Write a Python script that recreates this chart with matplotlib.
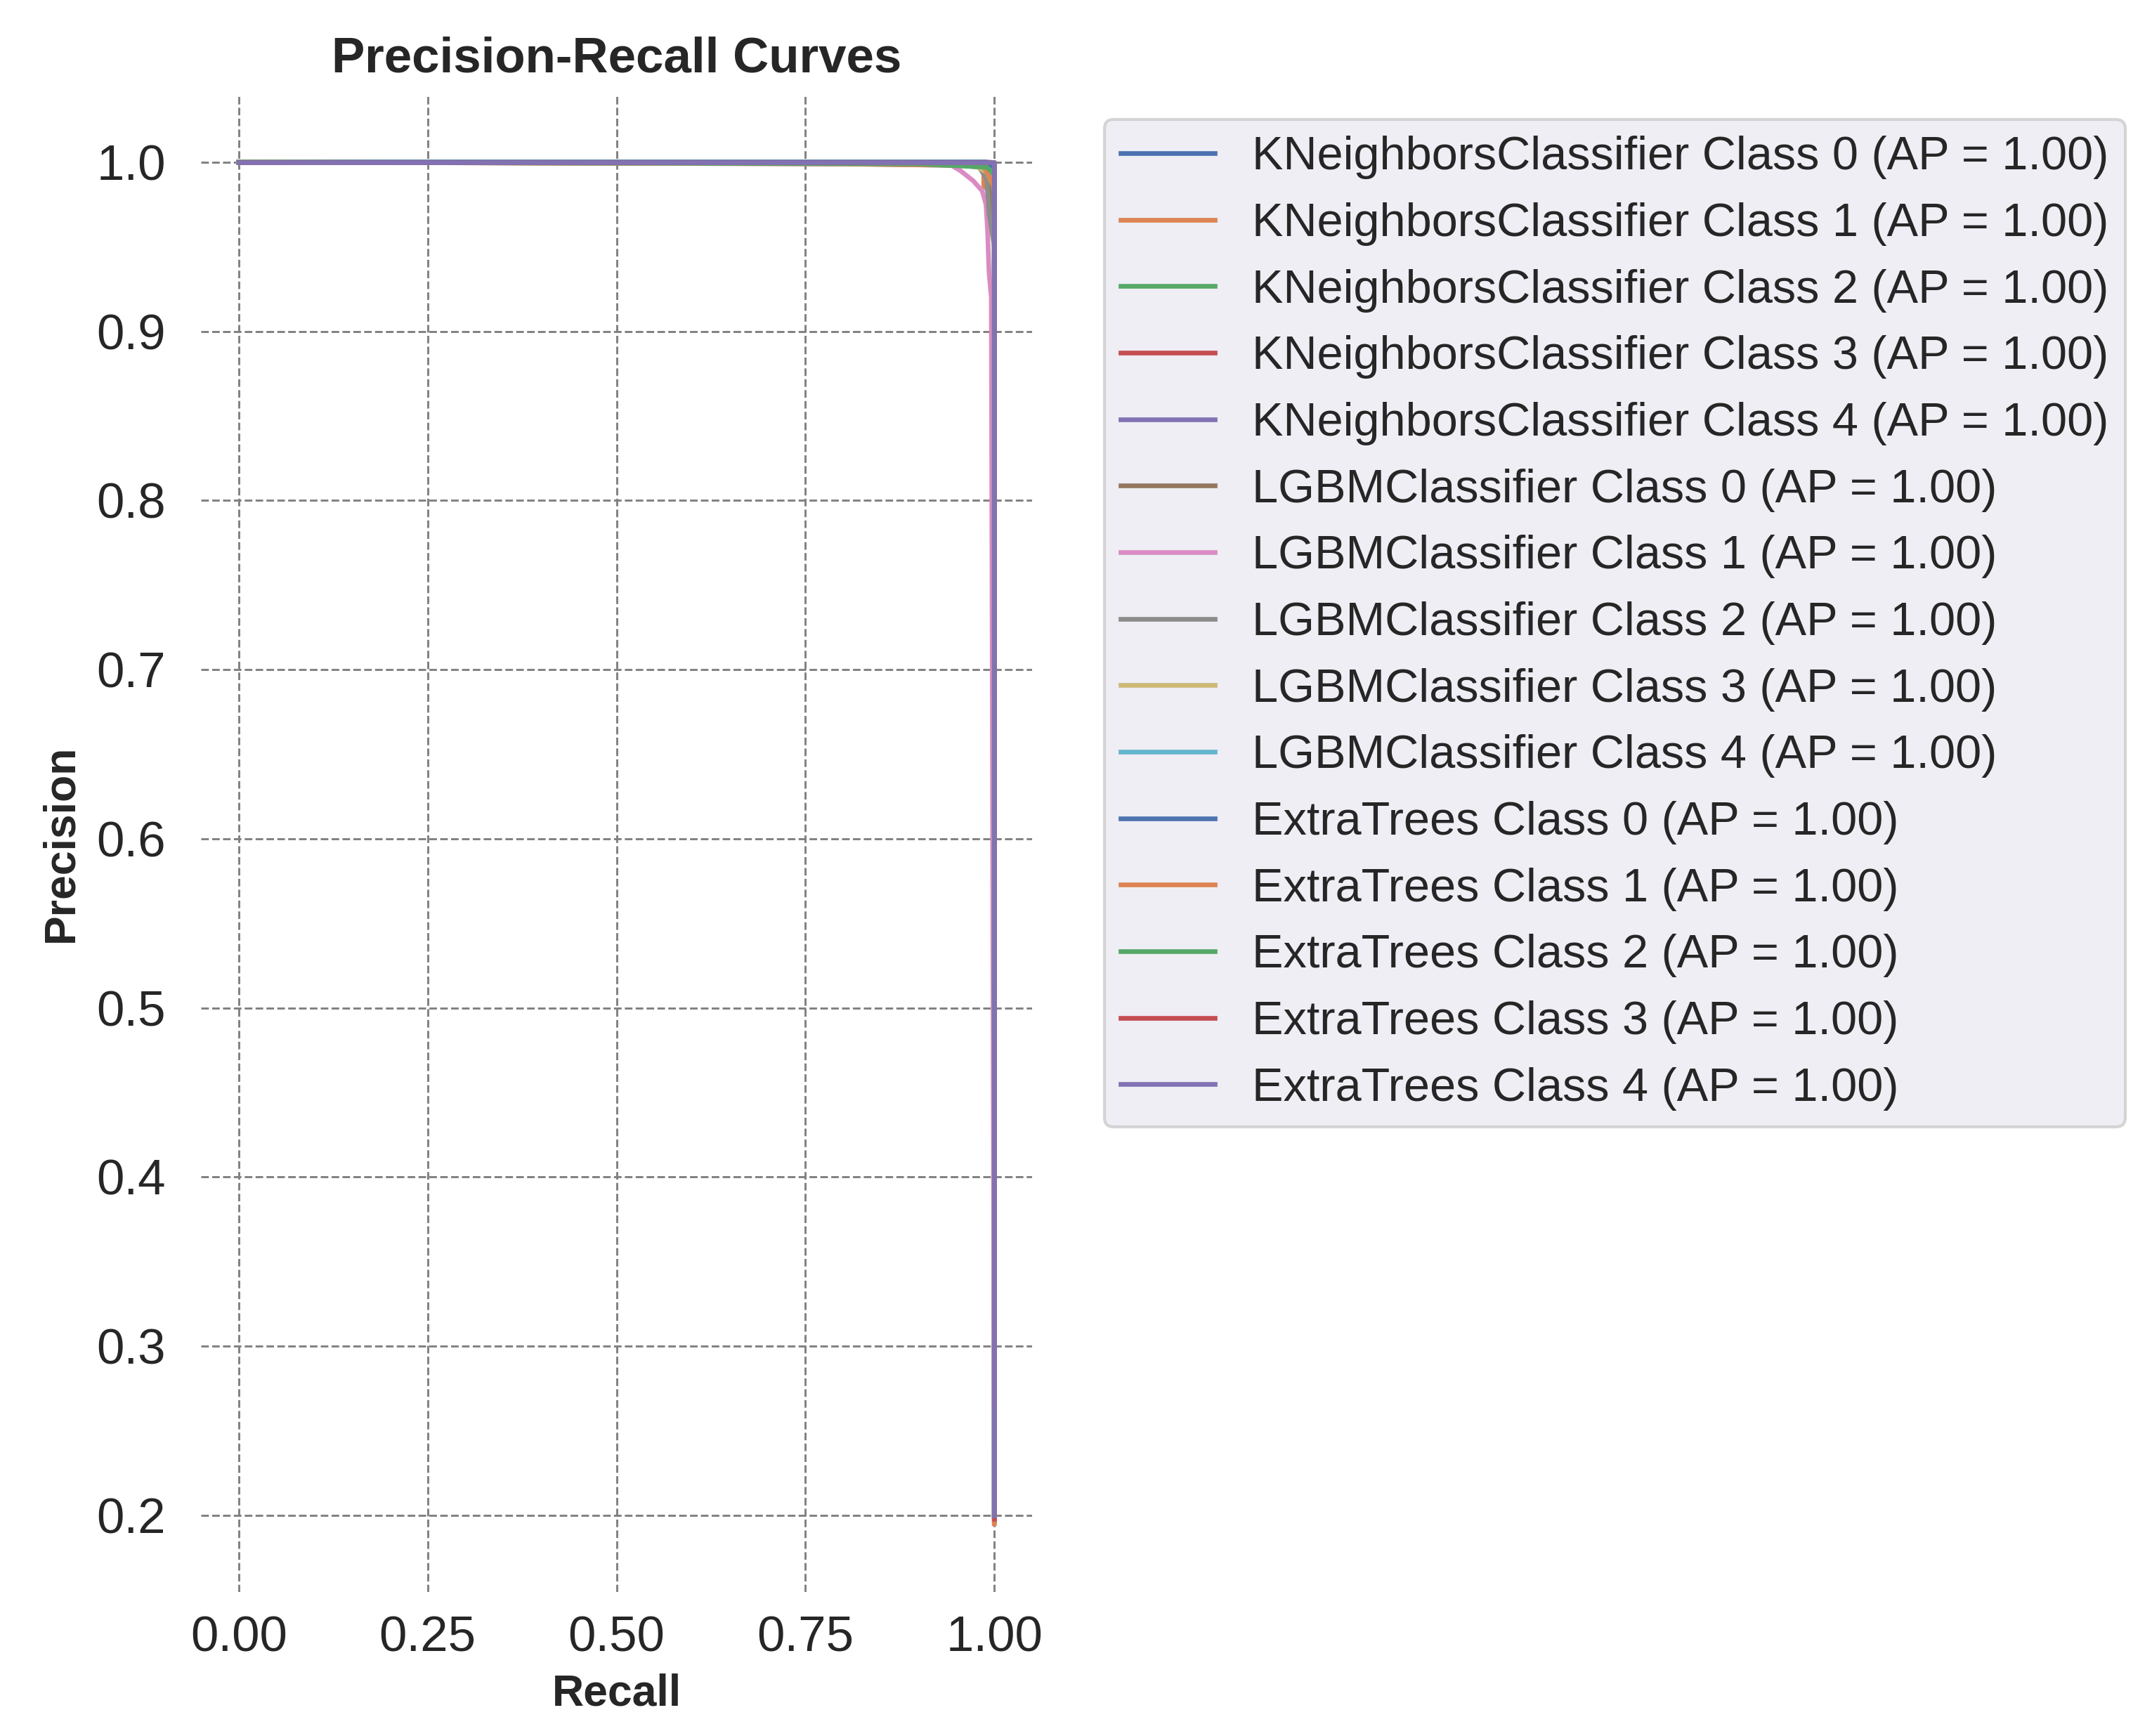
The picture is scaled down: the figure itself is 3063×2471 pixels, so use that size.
import matplotlib
matplotlib.use("Agg")
import matplotlib.pyplot as plt

# ---------------- data ----------------
models = ["KNeighborsClassifier", "LGBMClassifier", "ExtraTrees"]
classes = [0, 1, 2, 3, 4]
ap_knn = [1.00, 1.00, 1.00, 1.00, 1.00]
ap_lgbm = [1.00, 1.00, 1.00, 1.00, 1.00]
ap_et = [1.00, 1.00, 1.00, 1.00, 1.00]

knn_recall = [
    [0.0, 0.985, 0.993, 1.0, 1.0],
    [0.0, 0.980, 0.986, 0.986, 1.0, 1.0],
    [0.0, 0.990, 1.0, 1.0],
    [0.0, 1.0, 1.0],
    [0.0, 0.995, 1.0, 1.0],
]
knn_precision = [
    [1.0, 1.0, 0.996, 0.990, 0.199],
    [1.0, 1.0, 0.996, 0.986, 0.980, 0.196],
    [1.0, 1.0, 0.995, 0.200],
    [1.0, 1.0, 0.198],
    [1.0, 1.0, 0.997, 0.200],
]

lgbm_recall = [
    [0.0, 0.95, 0.985, 0.993, 0.995, 1.0, 1.0],
    [0.0, 0.94, 0.955, 0.972, 0.984, 0.989, 0.991, 0.993, 0.996, 1.0],
    [0.0, 0.80, 0.96, 0.98, 0.99, 0.993, 1.0, 1.0],
    [0.0, 0.97, 0.99, 1.0, 1.0],
    [0.0, 0.985, 0.997, 1.0, 1.0],
]
lgbm_precision = [
    [1.0, 1.0, 0.997, 0.990, 0.970, 0.960, 0.197],
    [1.0, 0.999, 0.995, 0.989, 0.983, 0.975, 0.960, 0.935, 0.920, 0.196],
    [1.0, 0.999, 0.998, 0.997, 0.990, 0.970, 0.950, 0.200],
    [1.0, 0.999, 0.994, 0.985, 0.198],
    [1.0, 1.0, 0.996, 0.990, 0.200],
]

et_recall = [
    [0.0, 0.99, 1.0, 1.0],
    [0.0, 0.79, 0.985, 0.995, 1.0, 1.0],
    [0.0, 0.90, 0.99, 1.0, 1.0],
    [0.0, 1.0, 1.0],
    [0.0, 1.0, 1.0],
]
et_precision = [
    [1.0, 1.0, 0.997, 0.199],
    [1.0, 0.999, 0.998, 0.990, 0.985, 0.195],
    [1.0, 0.999, 0.997, 0.993, 0.200],
    [1.0, 1.0, 0.198],
    [1.0, 1.0, 0.200],
]

# ---------------- style ----------------
palette = ["#4C72B0", "#DD8452", "#55A868", "#C44E52", "#8172B3",
           "#937860", "#DA8BC3", "#8C8C8C", "#CCB974", "#64B5CD"]
text_color = "#262626"
plt.rcParams["font.family"] = ["Liberation Sans", "DejaVu Sans"]
plt.rcParams["text.color"] = text_color
plt.rcParams["axes.labelcolor"] = text_color
plt.rcParams["xtick.color"] = text_color
plt.rcParams["ytick.color"] = text_color

fig = plt.figure(figsize=(3063 / 300, 2471 / 300), dpi=300)
ax = fig.add_axes([0.0934, 0.0830, 0.3862, 0.8628])
ax.set_facecolor("white")
for s in ax.spines.values():
    s.set_visible(False)

all_recall = [knn_recall, lgbm_recall, et_recall]
all_precision = [knn_precision, lgbm_precision, et_precision]
all_ap = [ap_knn, ap_lgbm, ap_et]

k = 0
for m, name in enumerate(models):
    for c in classes:
        ax.plot(all_recall[m][c], all_precision[m][c],
                color=palette[k % len(palette)], lw=1.6,
                label=f"{name} Class {c} (AP = {all_ap[m][c]:.2f})")
        k += 1

ax.grid(True, linestyle="--", color="#808080", linewidth=0.7)
ax.set_axisbelow(True)
ax.tick_params(axis="both", length=0, labelsize=17)
ax.tick_params(axis="y", pad=12)
ax.tick_params(axis="x", pad=8)
ax.set_xticks([0.0, 0.25, 0.5, 0.75, 1.0])
ax.set_xticklabels(["0.00", "0.25", "0.50", "0.75", "1.00"])

ax.set_title("Precision-Recall Curves", fontsize=17, fontweight="bold", pad=7.5)
ax.set_xlabel("Recall", fontsize=15, fontweight="bold", labelpad=4)
ax.set_ylabel("Precision", fontsize=15, fontweight="bold", labelpad=5)

leg = ax.legend(loc="upper left", bbox_to_anchor=(1572 / 3063, 1 - 170 / 2471),
                bbox_transform=fig.transFigure, borderaxespad=0,
                fontsize=16, frameon=True, fancybox=True, labelspacing=0.49,
                borderpad=0.35,
                facecolor="#EAEAF2", edgecolor="#CCCCCC", framealpha=0.8)
for t in leg.get_texts():
    t.set_color(text_color)

fig.savefig("out.png", dpi=300, facecolor="white")
